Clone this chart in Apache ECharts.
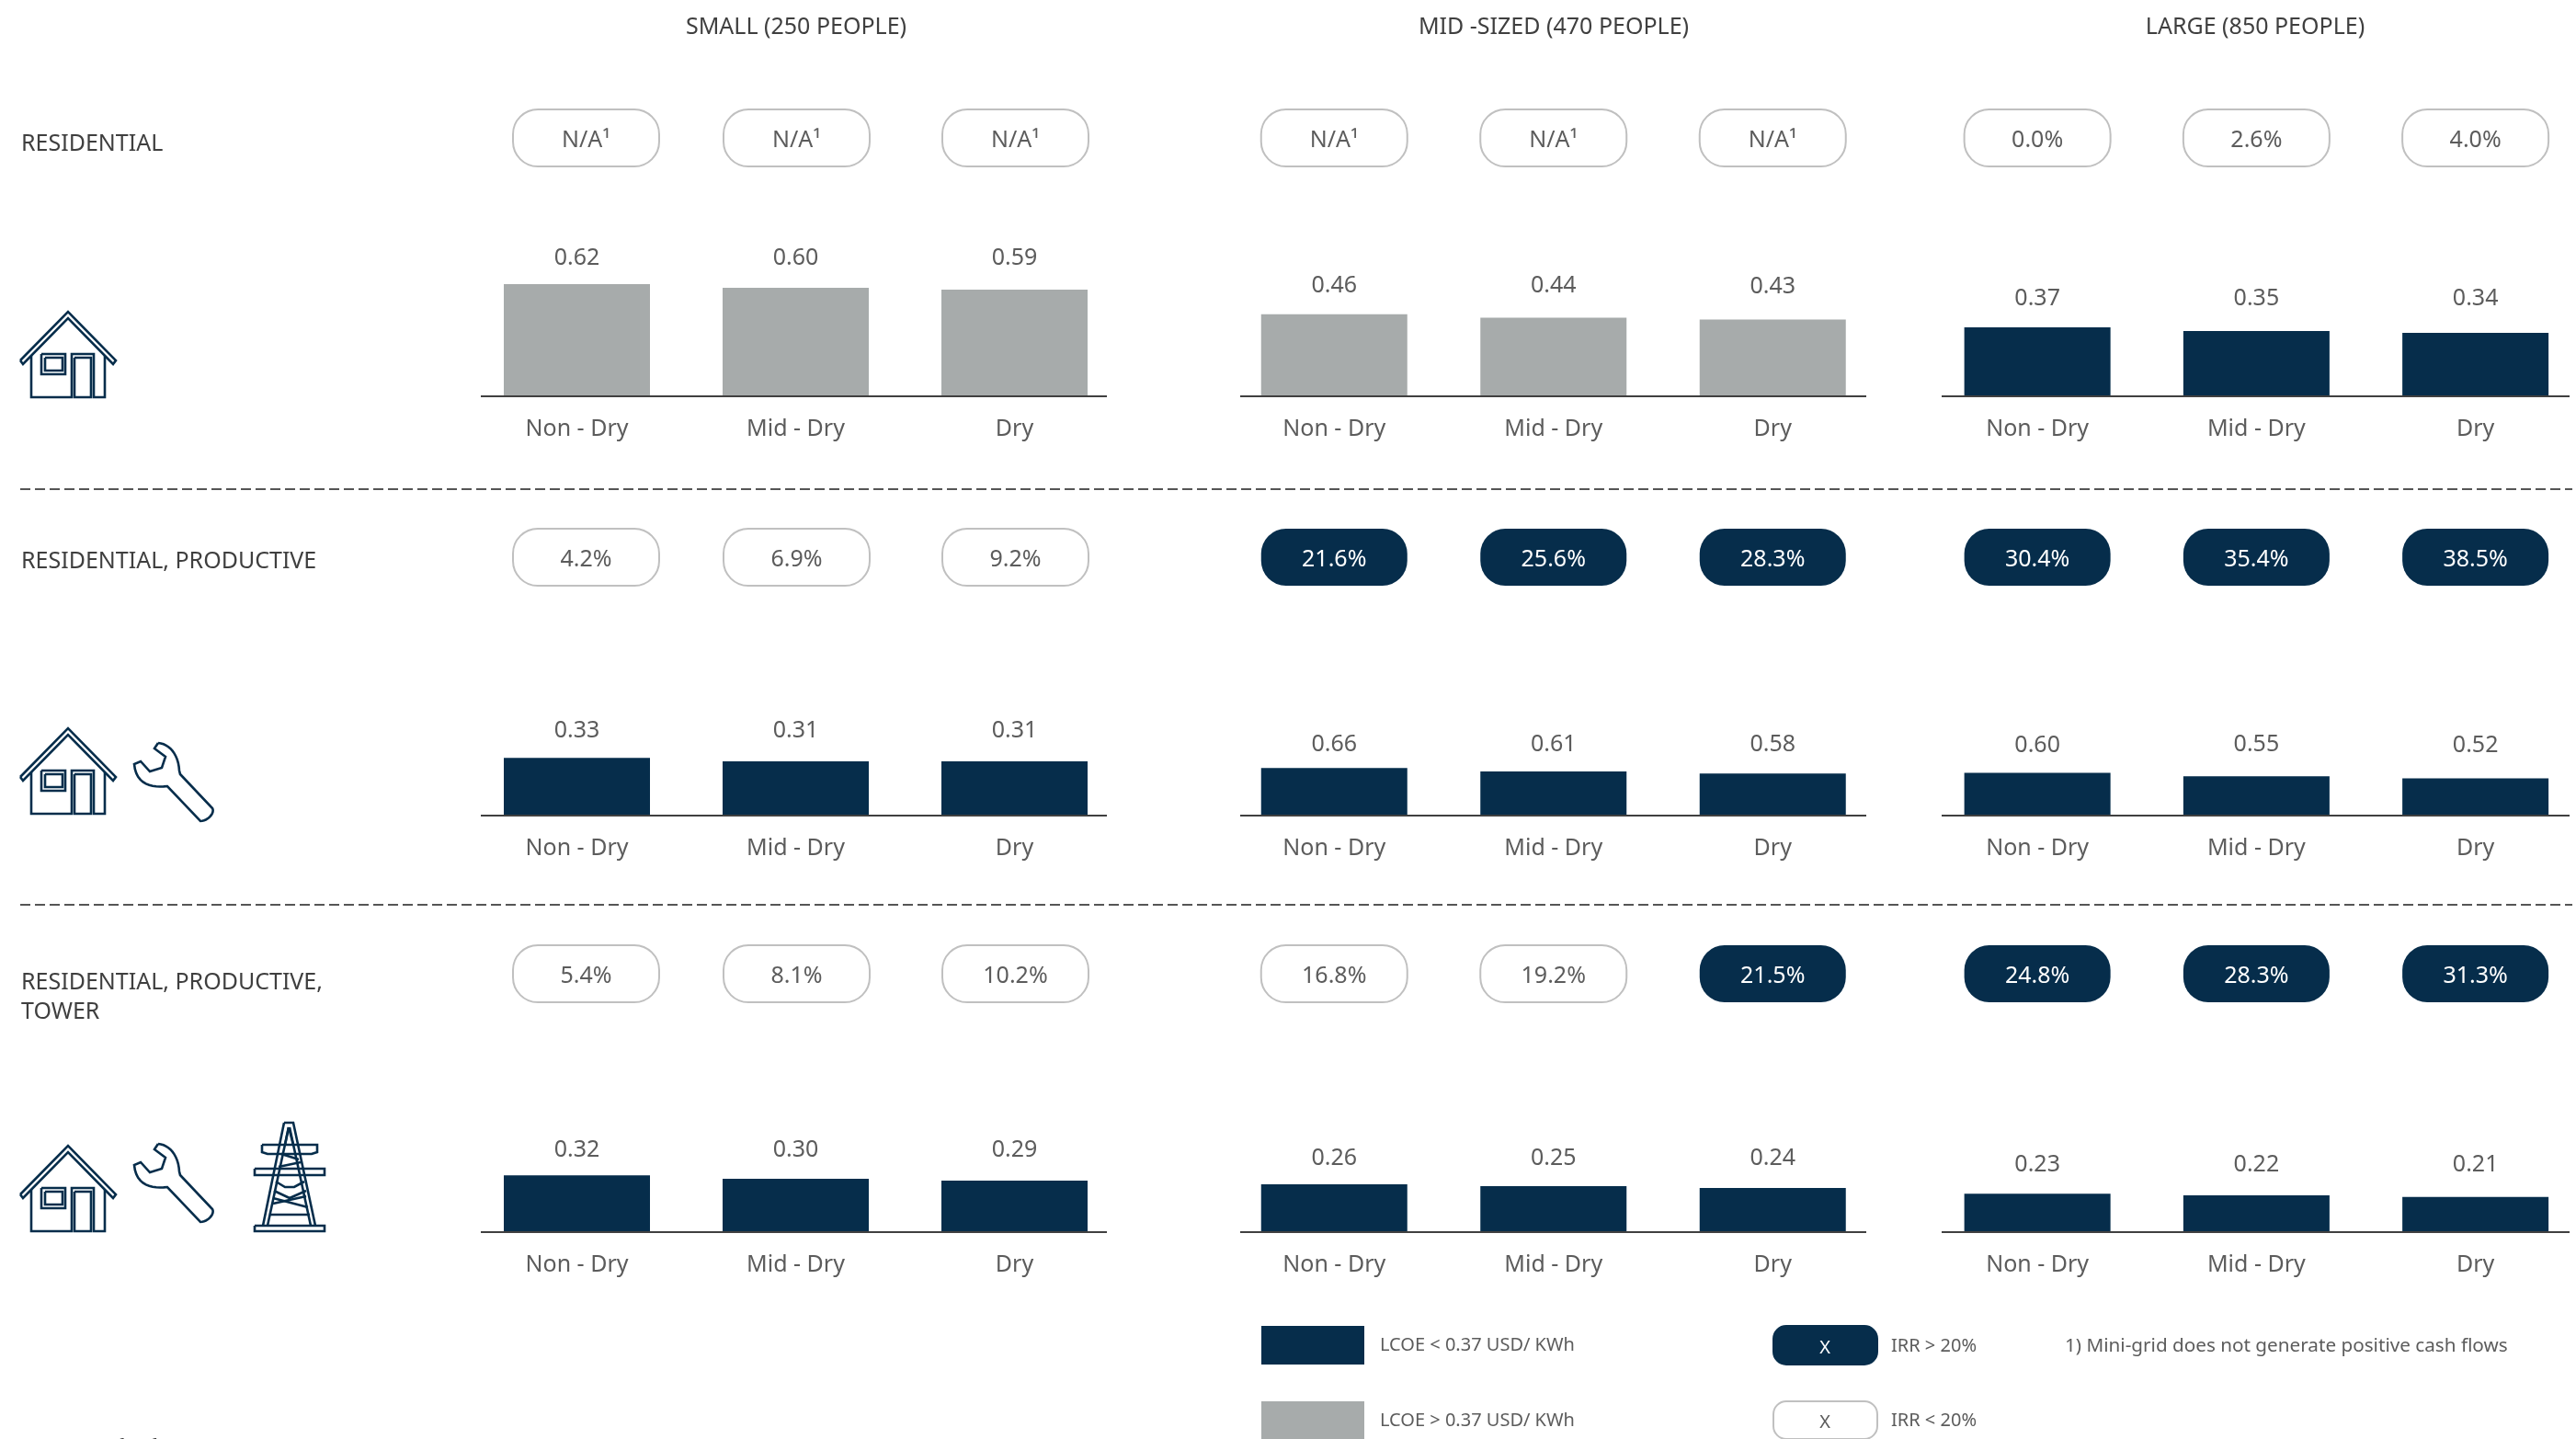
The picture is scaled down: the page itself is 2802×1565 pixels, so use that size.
<!DOCTYPE html>
<html><head><meta charset="utf-8">
<style>html,body{margin:0;padding:0;background:#fff;overflow:hidden}#c{width:2802px;height:1565px}</style>
<script src="https://cdn.jsdelivr.net/npm/echarts@6/dist/echarts.min.js"></script></head>
<body><div id="c"></div>
<script>
// ---- data ----
const categories = ['Non - Dry', 'Mid - Dry', 'Dry'];
const sizeLabels = ['SMALL (250 PEOPLE)', 'MID -SIZED (470 PEOPLE)', 'LARGE (850 PEOPLE)'];
const rowLabels = ['RESIDENTIAL', 'RESIDENTIAL, PRODUCTIVE', 'RESIDENTIAL, PRODUCTIVE,\nTOWER'];

const lcoeResidential = [[0.62, 0.60, 0.59], [0.46, 0.44, 0.43], [0.37, 0.35, 0.34]];
const lcoeProductive  = [[0.33, 0.31, 0.31], [0.66, 0.61, 0.58], [0.60, 0.55, 0.52]];
const lcoeTower       = [[0.32, 0.30, 0.29], [0.26, 0.25, 0.24], [0.23, 0.22, 0.21]];

const irrResidential = [[null, null, null], [null, null, null], [0.0, 2.6, 4.0]];
const irrProductive  = [[4.2, 6.9, 9.2], [21.6, 25.6, 28.3], [30.4, 35.4, 38.5]];
const irrTower       = [[5.4, 8.1, 10.2], [16.8, 19.2, 21.5], [24.8, 28.3, 31.3]];

// panels whose bars are grey (LCOE above threshold in the source's legend)
const greyBars = [[true, true, false], [false, false, false], [false, false, false]];

const legendLcoe = ['LCOE < 0.37 USD/ KWh', 'LCOE > 0.37 USD/ KWh'];
const legendIrr = ['IRR > 20%', 'IRR < 20%'];
const footnote = '1) Mini-grid does not generate positive cash flows';
const sourceText = 'Source: Roland Berger';

// ---- layout & style ----
const NAVY = '#062d4b', GREY = '#a7abab', TXT = '#5c5c5c', DARKTXT = '#3f3f3f', PILLB = '#c0c0c0';
const FONT = '"Noto Sans"';
const baselineY = [430, 886, 1339];
const pillCY = [150, 606, 1059];
const rowLabelY = [157, 611, 1085];
const colGrid = [[508.5, 714], [1332, 715.5], [2097, 714.75]];
const axisSpan = [[523, 1204], [1349, 2030], [2112, 2795]];
const headerX = [866, 1690, 2453];
// pixels per unit of LCOE for every panel, as the source drew them
const pxPerUnit = [[195, 192, 200], [187, 77, 76], [190, 196, 177]];
// vertical centre of the value labels per panel
const valueLabelY = [[281, 311, 325], [795, 810, 810], [1251, 1260, 1267]];
const GH = 200;

const lcoeRows = [lcoeResidential, lcoeProductive, lcoeTower];
const irrRows = [irrResidential, irrProductive, irrTower];

const grid = [], xAxis = [], yAxis = [], series = [], graphic = [];
let idx = 0;

for (let r = 0; r < 3; r++) for (let c = 0; c < 3; c++) {
  const [gl, gw] = colGrid[c];
  const vals = lcoeRows[r][c], scale = pxPerUnit[r][c];
  // bars
  grid.push({left: gl, width: gw, top: baselineY[r] - GH, height: GH, outerBoundsMode: 'none'});
  xAxis.push({type: 'category', gridIndex: idx, data: categories,
    axisLine: {show: false}, axisTick: {show: false},
    axisLabel: {color: TXT, fontFamily: FONT, fontSize: 25, margin: 24, interval: 0}});
  yAxis.push({type: 'value', gridIndex: idx, min: 0, max: GH / scale, show: false, splitLine: {show: false}});
  series.push({type: 'bar', xAxisIndex: idx, yAxisIndex: idx, barWidth: 159, silent: true,
    itemStyle: {color: greyBars[r][c] ? GREY : NAVY},
    data: vals.map(v => ({
      value: v,
      label: {show: true, position: 'top', distance: 0, lineHeight: 26, color: TXT, fontFamily: FONT, fontSize: 25,
        formatter: p => p.value.toFixed(2),
        offset: [0, Math.round(valueLabelY[r][c] + 13 - (baselineY[r] - v * scale))]}
    }))});
  idx++;
  // IRR pills
  grid.push({left: gl, width: gw, top: pillCY[r] - 31, height: 62, outerBoundsMode: 'none'});
  xAxis.push({type: 'category', gridIndex: idx, data: categories, show: false});
  yAxis.push({type: 'value', gridIndex: idx, min: -1, max: 1, show: false, splitLine: {show: false}});
  const nudge = c === 0 ? [10, 1, 1] : [0, 0, 0];
  series.push({type: 'custom', xAxisIndex: idx, yAxisIndex: idx, silent: true, clip: false,
    data: irrRows[r][c].map((v, i) => ({value: [i, 0, v]})),
    encode: {x: 0, y: 1},
    renderItem: (params, api) => {
      const i = api.value(0), raw = irrRows[r][c][i];
      const p = api.coord([i, 0]);
      const cx = p[0] + nudge[i], on = raw !== null && raw > 20;
      return {type: 'group', children: [
        {type: 'rect', shape: {x: cx - 79.5, y: p[1] - 31, width: 159, height: 62, r: 27},
          style: {fill: on ? NAVY : '#fff', stroke: on ? NAVY : PILLB, lineWidth: on ? 0 : 2}},
        {type: 'text', style: {text: raw === null ? 'N/A\u00b9' : raw.toFixed(1) + '%',
          x: cx, y: p[1] + 3, align: 'center', verticalAlign: 'middle',
          fill: on ? '#fff' : TXT, font: '25px ' + FONT}}
      ]};
    }});
  idx++;
}

// baselines
for (let r = 0; r < 3; r++) for (let c = 0; c < 3; c++) {
  graphic.push({type: 'line', z: 20, silent: true,
    shape: {x1: axisSpan[c][0], y1: baselineY[r] + 1, x2: axisSpan[c][1], y2: baselineY[r] + 1},
    style: {stroke: '#404040', lineWidth: 2}});
}
// dashed separators
[532, 984].forEach(y => graphic.push({type: 'line', silent: true, shape: {x1: 22, y1: y, x2: 2798, y2: y},
  style: {stroke: '#555', lineWidth: 2, lineDash: [11, 5]}}));

const addText = (text, x, y, size, fill, align, lh) => graphic.push({type: 'text', silent: true, x, y,
  style: {text, fill, align: align || 'left', verticalAlign: 'middle', font: size + 'px ' + FONT, lineHeight: lh || size}});

sizeLabels.forEach((t, i) => addText(t, headerX[i], 30, 25, DARKTXT, 'center'));
rowLabels.forEach((t, i) => addText(t, 23, rowLabelY[i], 25, DARKTXT, 'left', 32));

// legend
const swatch = (x, y, w, h, fill, stroke, r) => graphic.push({type: 'rect', silent: true,
  shape: {x, y, width: w, height: h, r: r || 0}, style: {fill, stroke: stroke || fill, lineWidth: stroke ? 2 : 0}});
swatch(1372, 1442, 112, 42, NAVY);
swatch(1372, 1524, 112, 42, GREY);
swatch(1929, 1442, 113, 42, NAVY, NAVY, 14);
swatch(1929, 1524, 113, 41, '#fff', PILLB, 14);
addText('X', 1985, 1466, 20, '#fff', 'center');
addText('X', 1985, 1547, 20, TXT, 'center');
addText(legendLcoe[0], 1501, 1463, 20, TXT);
addText(legendLcoe[1], 1501, 1545, 20, TXT);
addText(legendIrr[0], 2057, 1464, 20, TXT);
addText(legendIrr[1], 2057, 1545, 20, TXT);
addText(footnote, 2246, 1464, 20.7, TXT);
graphic.push({type: 'text', silent: true, x: 23, y: 1562,
  style: {text: sourceText, fill: DARKTXT, font: '24px "Liberation Serif"', verticalAlign: 'top'}});

// icons: px relative to an origin; flattened into polylines
function flatten(d) {
  const out = []; let cur = null;
  const toks = d.match(/[MLCZ]|-?[\d.]+/g); let i = 0;
  const num = () => +toks[i++];
  while (i < toks.length) {
    const k = toks[i++];
    if (k === 'M') { cur = [[num(), num()]]; out.push(cur); }
    else if (k === 'L') { cur.push([num(), num()]); }
    else if (k === 'C') {
      const p0 = cur[cur.length - 1], a = [num(), num()], b = [num(), num()], e = [num(), num()];
      for (let s = 1; s <= 12; s++) {
        const t = s / 12, u = 1 - t;
        cur.push([0, 1].map(j => u*u*u*p0[j] + 3*u*u*t*a[j] + 3*u*t*t*b[j] + t*t*t*e[j]));
      }
    } else if (k === 'Z') { cur.push(cur[0].slice()); }
  }
  return out;
}
const icon = (d, ox, oy, w) => flatten(d).forEach(pts => graphic.push({type: 'polyline', silent: true, z: 5,
  shape: {points: pts.map(p => [p[0] + ox, p[1] + oy])},
  style: {fill: 'none', stroke: NAVY, lineWidth: w || 2.6, lineJoin: 'miter'}}));

const HOUSE = 'M22,53 L74,0 L126,53 L123,57 L74,7 L25,57 Z ' +
  'M34,48 L34,93 L78,93 L78,46 L102,46 L102,93 L114,93 L114,48 ' +
  'M45,46 L71,46 L71,68 L45,68 Z M49,50 L68,50 L68,64 L49,64 Z ' +
  'M81,50 L99,50 L99,93 L81,93 Z';
const WRENCH = 'M172,0 C184,1 194,12 195,30 L196,34 L231,71 C234,76 226,85 218,85 L182,47 ' +
  'C166,49 148,46 146,23 L153,20 L163,31 L176,27 L180,15 L168,6 Z';
const TOWER = 'M32,0 L42,0 L66,112 M32,0 L9,112 ' +
  'M37,5 L33,24 M37,5 L42,24 M14,112 L37,5 M61,112 L38,5 ' +
  'M8,24 L68,24 L68,32 L62,34 L14,34 L8,32 Z ' +
  'M0,50 L76,50 L76,57 L0,57 Z ' +
  'M29,34 L48,40 M26,48 L50,43 M23,64 L33,70 L43,70 L54,64 ' +
  'M21,74 L38,82 L56,74 M20,88 L56,80 M20,82 L58,92 M16,100 L60,100 ' +
  'M0,112 L76,112 L76,118 L0,118 Z';
[339, 792, 1246].forEach(y => icon(HOUSE, 0, y));
icon(WRENCH, 0, 808);
icon(WRENCH, 0, 1244);
icon(TOWER, 277, 1221);

const chart = echarts.init(document.getElementById('c'), null, {renderer: 'canvas', width: 2802, height: 1565});
chart.setOption({animation: false, backgroundColor: '#fff', grid, xAxis, yAxis, series, graphic});
</script></body></html>
